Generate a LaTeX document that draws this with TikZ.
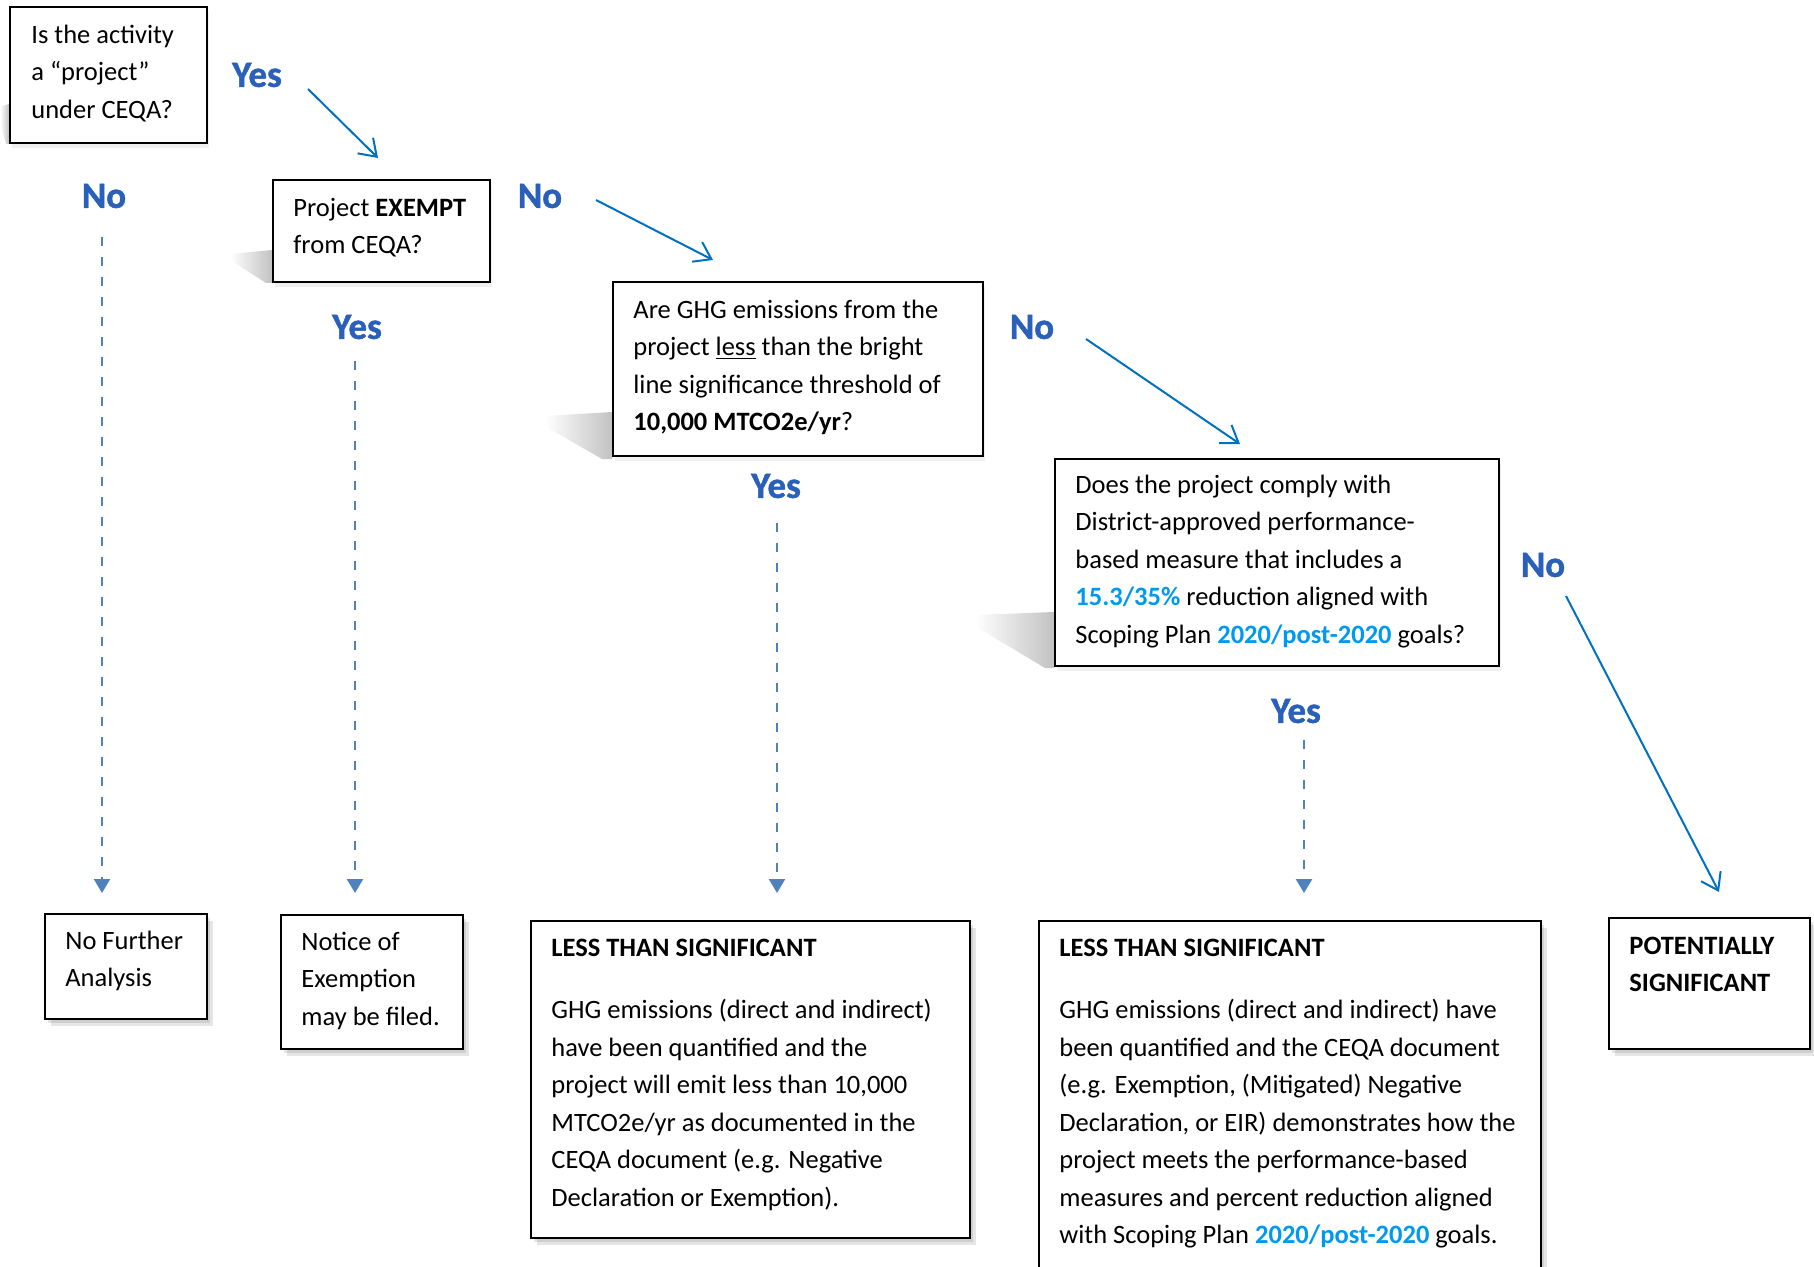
\documentclass[tikz,border=0pt]{standalone}
\usepackage{fontspec}
\setmainfont{Carlito}
\newfontfamily\lblfont[FakeBold=1.2]{Carlito}
\usetikzlibrary{arrows.meta,shadows}
\definecolor{arrblue}{RGB}{0,112,192}
\definecolor{dashblue}{RGB}{79,129,189}
\definecolor{lblblue}{RGB}{42,96,186}
\definecolor{hl}{RGB}{0,153,240}
\newcommand\fstrut{\rule{0pt}{14pt}}
\begin{document}
\begin{tikzpicture}[x=0.5pt,y=-0.5pt,
  box/.style={draw=black, line width=0.9pt, fill=white, inner sep=0pt, anchor=north west},
  bshadow/.style={general shadow={fill=black, opacity=0.10, shadow xshift=1.5pt, shadow yshift=-2pt},
                  general shadow={fill=black, opacity=0.10, shadow xshift=3pt, shadow yshift=-3.5pt}},
  lshadow/.style={general shadow={fill=black, opacity=0.06, shadow xshift=1pt, shadow yshift=-2.5pt}},
  txt/.style={anchor=north west, inner sep=0pt, align=left, font=\fontsize{13.25}{18.75}\selectfont},
  lbl/.style={font=\lblfont\fontsize{18.5}{20}\selectfont\bfseries, text=lblblue, inner sep=0pt},
  solidarr/.style={draw=arrblue, line width=1pt, -{Straight Barb[length=8pt,width=11pt]}},
  dasharr/.style={draw=dashblue, line width=1.2pt, dash pattern=on 4.5pt off 5.5pt, -{Triangle[length=7pt,width=8pt]}},
  wedge/.style={left color=white, right color=black!24}
]
\useasboundingbox (0,0) rectangle (1814,1267);
\clip (0,0) rectangle (1814,1267);

% perspective shadows of question boxes
\shade[wedge] (9,104) -- (0,107) -- (0,122) -- (6,144) -- (9,144) -- cycle;
\shade[wedge] (272,250) -- (230,254) -- (233,262) -- (266,283) -- (272,283) -- cycle;
\shade[wedge] (612,412) -- (545,416) -- (548,428) -- (602,459) -- (612,459) -- cycle;
\shade[wedge] (1054,612) -- (975,615) -- (978,628) -- (1045,668) -- (1054,668) -- cycle;

% question boxes
\node[box, lshadow, minimum width=98.5pt, minimum height=68pt] (q1) at (9,6) {};
\node[box, lshadow, minimum width=108.5pt, minimum height=51pt] (q2) at (272,179) {};
\node[box, lshadow, minimum width=185pt, minimum height=87pt] (q3) at (612,281) {};
\node[box, lshadow, minimum width=222pt, minimum height=103.5pt] (q4) at (1054,458) {};

% result boxes
\node[box, bshadow, minimum width=81pt, minimum height=52.5pt] (r1) at (44,913) {};
\node[box, bshadow, minimum width=91pt, minimum height=67pt] (r2) at (280,914) {};
\node[box, bshadow, minimum width=219.5pt, minimum height=158.5pt] (r3) at (530,920) {};
\node[box, bshadow, minimum width=251pt, minimum height=190pt] (r4) at (1038,920) {};
\node[box, bshadow, minimum width=100.5pt, minimum height=65.5pt] (r5) at (1608,917) {};

% texts
\node[txt] (t1) at (31,15) {\fstrut Is the activity\\ a “project”\\ under CEQA?};
\node[txt] (t2) at (293,188) {\fstrut Project \textbf{EXEMPT}\\ from CEQA?};
\node[txt] (t3) at (633,290) {\fstrut Are GHG emissions from the\\ project \underline{less} than the bright\\ line significance threshold of\\ \textbf{10,000 MTCO2e/yr}?};
\node[txt] (t4) at (1075,465) {\fstrut Does the project comply with\\ District-approved performance-\\ based measure that includes a\\ {\color{hl}\textbf{15.3/35\%}} reduction aligned with\\ Scoping Plan {\color{hl}\textbf{2020/post-2020}} goals?};
\node[txt] (s1) at (65,921) {\fstrut No Further\\ Analysis};
\node[txt] (s2) at (301,922) {\fstrut Notice of\\ Exemption\\ may be filed.};
\node[txt] (s3) at (551,928) {\fstrut\textbf{LESS THAN SIGNIFICANT}\\[12.5pt] GHG emissions (direct and indirect)\\ have been quantified and the\\ project will emit less than 10,000\\ MTCO2e/yr as documented in the\\ CEQA document (e.g. Negative\\ Declaration or Exemption).};
\node[txt] (s4) at (1059,928) {\fstrut\textbf{LESS THAN SIGNIFICANT}\\[12.5pt] GHG emissions (direct and indirect) have\\ been quantified and the CEQA document\\ (e.g. Exemption, (Mitigated) Negative\\ Declaration, or EIR) demonstrates how the\\ project meets the performance-based\\ measures and percent reduction aligned\\ with Scoping Plan {\color{hl}\textbf{2020/post-2020}} goals.};
\node[txt] (s5) at (1629,926) {\fstrut\textbf{POTENTIALLY}\\ \textbf{SIGNIFICANT}};

% labels
\node[lbl] (yes1) at (257,75) {Yes};
\node[lbl] (no1) at (104,196) {No};
\node[lbl] (no2) at (540,196) {No};
\node[lbl] (yes2) at (357,327) {Yes};
\node[lbl] (no3) at (1032,327) {No};
\node[lbl] (yes3) at (776,486) {Yes};
\node[lbl] (no4) at (1543,565) {No};
\node[lbl] (yes4) at (1296,711) {Yes};

% connector end points
\coordinate (a1s) at (308,89);   \coordinate (a1e) at (378,158);
\coordinate (a2s) at (596,200);  \coordinate (a2e) at (713,260);
\coordinate (a3s) at (1086,339); \coordinate (a3e) at (1240,444);
\coordinate (a4s) at (1566,596); \coordinate (a4e) at (1719,892);
\coordinate (d1s) at (102,237);  \coordinate (d1e) at (102,893);
\coordinate (d2s) at (355,361);  \coordinate (d2e) at (355,893);
\coordinate (d3s) at (777,523);  \coordinate (d3e) at (777,893);
\coordinate (d4s) at (1304,740); \coordinate (d4e) at (1304,893);

\draw[solidarr] (a1s) -- (a1e);
\draw[solidarr] (a2s) -- (a2e);
\draw[solidarr] (a3s) -- (a3e);
\draw[solidarr] (a4s) -- (a4e);
\draw[dasharr] (d1s) -- (d1e);
\draw[dasharr] (d2s) -- (d2e);
\draw[dasharr] (d3s) -- (d3e);
\draw[dasharr] (d4s) -- (d4e);
\end{tikzpicture}
\end{document}
